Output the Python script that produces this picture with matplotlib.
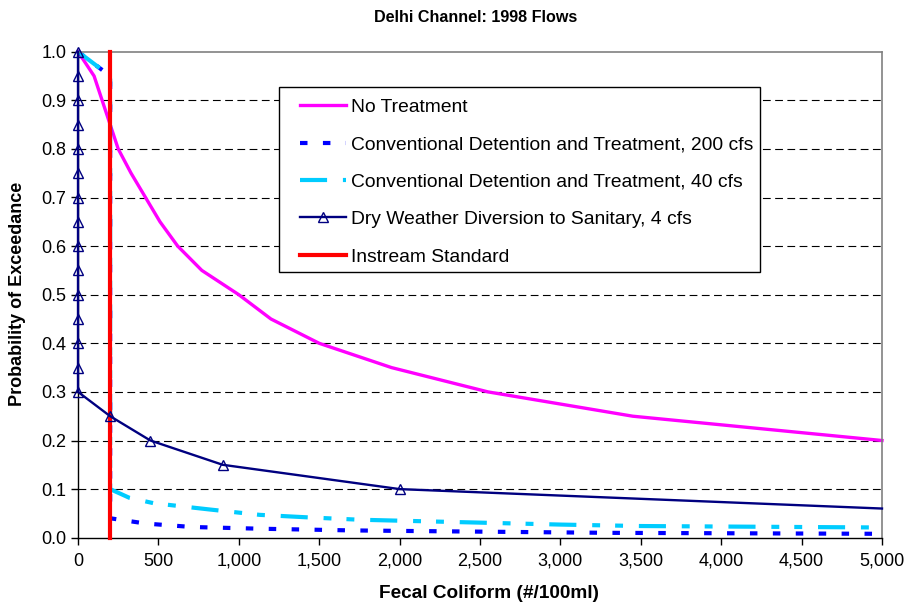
import matplotlib
matplotlib.use("Agg")
import matplotlib.pyplot as plt
from matplotlib.patches import Rectangle
from matplotlib.ticker import FuncFormatter, MultipleLocator

plt.rcParams['font.family'] = ['Liberation Sans', 'DejaVu Sans']

# ---- data ----
title = "Delhi Channel: 1998 Flows"
xlabel = "Fecal Coliform (#/100ml)"
ylabel = "Probability of Exceedance"

no_treat_x = [0, 100, 200, 250, 330, 420, 510, 620, 770, 1000, 1200, 1500, 1950, 2550, 3450, 5000]
no_treat_y = [1.0, 0.95, 0.85, 0.80, 0.75, 0.70, 0.65, 0.60, 0.55, 0.50, 0.45, 0.40, 0.35, 0.30, 0.25, 0.20]

cdt200_x = [0, 200, 200, 260, 425, 710, 1130, 1700, 2000, 3300, 5000]
cdt200_y = [1.0, 0.95, 0.04, 0.037, 0.029, 0.022, 0.0185, 0.015, 0.014, 0.010, 0.008]

cdt40_x = [0, 200, 200, 320, 470, 820, 1130, 1420, 1750, 2000, 3000, 3500, 5000]
cdt40_y = [1.0, 0.95, 0.10, 0.082, 0.071, 0.058, 0.047, 0.042, 0.037, 0.035, 0.027, 0.024, 0.021]

dry_x = [0]*15 + [200, 450, 900, 2000, 5000]
dry_y = [1.0, 0.95, 0.90, 0.85, 0.80, 0.75, 0.70, 0.65, 0.60, 0.55, 0.50, 0.45, 0.40, 0.35, 0.30,
         0.25, 0.20, 0.15, 0.10, 0.06]

std_x = [200, 200]
std_y = [0.0, 1.0]

labels = ["No Treatment",
          "Conventional Detention and Treatment, 200 cfs",
          "Conventional Detention and Treatment, 40 cfs",
          "Dry Weather Diversion to Sanitary, 4 cfs",
          "Instream Standard"]

xticks = [0, 500, 1000, 1500, 2000, 2500, 3000, 3500, 4000, 4500, 5000]

# ---- figure ----
W, H = 908, 608
fig = plt.figure(figsize=(W/100, H/100), dpi=100)
ax = fig.add_axes([78/W, 1-537.7/H, (882-78)/W, (537.7-51.7)/H])

for y in [0.1, 0.2, 0.3, 0.4, 0.5, 0.6, 0.7, 0.8, 0.9]:
    ax.axhline(y, color='black', lw=0.8, dashes=(7, 4), zorder=0.5)

ax.plot(no_treat_x, no_treat_y, color='#FF00FF', lw=2.4, label=labels[0], zorder=2, clip_on=False)
ax.plot(cdt200_x, cdt200_y, color='#0000FF', lw=3, dashes=(1.8, 3.7), label=labels[1], zorder=2,
        clip_on=False)
ax.plot(cdt40_x, cdt40_y, color='#00CCFF', lw=3, dashes=(6.5, 3.8, 1.9, 3.6, 1.9, 3.8),
        label=labels[2], zorder=2, clip_on=False)
ax.plot(dry_x, dry_y, color='#000080', lw=1.7, marker='^', markersize=7,
        markerfacecolor='none', markeredgecolor='#000080', markeredgewidth=1.0,
        markevery=list(range(len(dry_x)-1)), label=labels[3], zorder=5, clip_on=False)
ax.plot(std_x, std_y, color='#FF0000', lw=3, label=labels[4], zorder=4, clip_on=False)

ax.set_xlim(0, 5000)
ax.set_ylim(0, 1.0)
ax.set_xticks(xticks)
ax.xaxis.set_major_formatter(FuncFormatter(lambda v, p: f"{int(v):,}"))
ax.yaxis.set_major_locator(MultipleLocator(0.1))
ax.yaxis.set_major_formatter(FuncFormatter(lambda v, p: f"{v:.1f}"))
ax.tick_params(axis='both', direction='out', length=5, width=1, labelsize=13, colors='black')
ax.tick_params(axis='x', pad=6)

for s in ['left', 'bottom']:
    ax.spines[s].set_color('black')
    ax.spines[s].set_linewidth(1)
for s in ['top', 'right']:
    ax.spines[s].set_color('#808080')
    ax.spines[s].set_linewidth(1.2)

fig.text(476/W, 1-18/H, title, ha='center', va='center', fontsize=11.6, fontweight='bold')
fig.text(489/W, 1-593/H, xlabel, ha='center', va='center', fontsize=13.7, fontweight='bold')
fig.text(18/W, 1-294/H, ylabel, ha='center', va='center', rotation=90,
         fontsize=13.0, fontweight='bold')

# legend frame drawn separately for exact placement
frame = Rectangle((279/W, 1-272/H), (760-279)/W, (272-87)/H, transform=fig.transFigure,
                  facecolor='white', edgecolor='black', linewidth=1.0, zorder=6, clip_on=False)
ax.add_patch(frame)
leg = ax.legend(loc='upper left', bbox_to_anchor=(300/W, 1-98.5/H), bbox_transform=fig.transFigure,
                fontsize=13.9, frameon=False, borderaxespad=0, borderpad=0,
                handlelength=2.4, handletextpad=0.26, labelspacing=1.03)
leg.set_zorder(7)

fig.savefig("out.png", dpi=100)
